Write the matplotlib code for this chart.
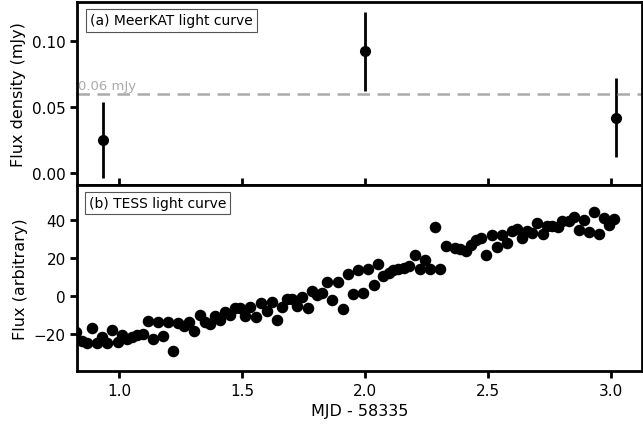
import matplotlib
matplotlib.use("Agg")
import matplotlib.pyplot as plt

# MeerKAT light curve
mk_mjd = [0.935, 2.0, 3.02]
mk_flux = [0.025, 0.092, 0.042]
mk_err = [0.029, 0.030, 0.030]
threshold = 0.06

# TESS light curve
tess_mjd = [0.825, 0.848, 0.869, 0.889, 0.909, 0.930, 0.952, 0.973, 0.995, 1.013,
            1.034, 1.054, 1.074, 1.096, 1.119, 1.139, 1.160, 1.180, 1.200, 1.221,
            1.241, 1.264, 1.285, 1.306, 1.329, 1.350, 1.370, 1.390, 1.411, 1.431,
            1.451, 1.472, 1.492, 1.512, 1.533, 1.556, 1.577, 1.600, 1.621, 1.641,
            1.661, 1.682, 1.702, 1.722, 1.743, 1.766, 1.786, 1.806, 1.826, 1.847,
            1.867, 1.891, 1.912, 1.932, 1.952, 1.973, 1.993, 2.011, 2.034, 2.054,
            2.074, 2.095, 2.115, 2.135, 2.156, 2.179, 2.203, 2.224, 2.244, 2.264,
            2.285, 2.305, 2.327, 2.366, 2.386, 2.409, 2.429, 2.450, 2.470, 2.492,
            2.515, 2.535, 2.556, 2.576, 2.596, 2.616, 2.637, 2.657, 2.678, 2.700,
            2.721, 2.741, 2.761, 2.782, 2.802, 2.827, 2.847, 2.870, 2.890, 2.911,
            2.931, 2.951, 2.972, 2.993, 3.013]
tess_flux = [-19.0, -24.0, -25.0, -17.0, -25.0, -22.0, -25.0, -18.0, -24.4, -20.7,
             -22.8, -21.7, -21.0, -20.4, -13.2, -22.8, -13.7, -21.4, -14.0, -29.3,
             -14.4, -16.2, -14.0, -18.4, -10.2, -14.0, -14.9, -10.5, -12.7, -8.4,
             -10.2, -6.6, -6.6, -10.5, -6.1, -11.4, -4.0, -8.2, -3.5, -12.7,
             -6.1, -1.8, -1.8, -5.6, -0.5, -6.6, 2.3, 0.4, 1.3, 7.4,
             -2.2, 7.1, -7.2, 11.4, 0.9, 13.7, 1.3, 14.2, 5.4, 16.5,
             10.2, 12.1, 13.7, 14.2, 14.6, 15.6, 21.3, 14.2, 18.6, 14.0,
             36.5, 14.0, 26.2, 25.3, 24.8, 23.4, 26.5, 29.2, 30.6, 21.6,
             31.8, 25.7, 31.8, 27.8, 34.1, 35.0, 30.6, 34.1, 33.1, 38.5,
             32.6, 36.6, 36.6, 36.4, 39.6, 39.6, 41.4, 34.4, 40.1, 33.6,
             44.0, 32.6, 41.1, 37.1, 40.6]

plt.rcParams['font.family'] = ['DejaVu Sans']

fig = plt.figure(figsize=(6.43, 4.27), dpi=100)
L, R = 0.1205, 0.998
ax1 = fig.add_axes([L, 0.5644, R - L, 0.992 - 0.5644])
ax2 = fig.add_axes([L, 0.129, R - L, 0.5644 - 0.129], sharex=ax1)

for ax in (ax1, ax2):
    for s in ax.spines.values():
        s.set_linewidth(2.0)
    ax.tick_params(axis='both', width=2.0, length=5, labelsize=11)

# Top panel
ax1.errorbar(mk_mjd, mk_flux, yerr=mk_err, fmt='o', color='black',
             markersize=7, elinewidth=2, capsize=0)
ax1.axhline(threshold, color='#aaaaaa', linestyle='--', linewidth=1.8, dashes=(5, 3))
ax1.text(0.835, threshold + 0.0015, '0.06 mJy', color='#aaaaaa', fontsize=9.5,
         ha='left', va='bottom')
ax1.set_ylim(-0.009, 0.129)
ax1.set_yticks([0.0, 0.05, 0.10])
ax1.set_ylabel('Flux density (mJy)', fontsize=11.5)
ax1.tick_params(axis='x', direction='in', labelbottom=False)
ax1.text(0.022, 0.94, '(a) MeerKAT light curve', transform=ax1.transAxes,
         fontsize=10, ha='left', va='top',
         bbox=dict(boxstyle='square,pad=0.3', fc='white', ec='#555555', lw=0.8))

# Bottom panel
ax2.plot(tess_mjd, tess_flux, 'o', color='black', markersize=7.3)
ax2.set_ylim(-39.7, 58.4)
ax2.set_yticks([-20, 0, 20, 40])
ax2.set_xlim(0.831, 3.124)
ax2.set_xticks([1.0, 1.5, 2.0, 2.5, 3.0])
ax2.set_ylabel('Flux (arbitrary)', fontsize=11.5)
ax2.set_xlabel('MJD - 58335', fontsize=11.5)
ax2.text(0.02, 0.94, '(b) TESS light curve', transform=ax2.transAxes,
         fontsize=10, ha='left', va='top',
         bbox=dict(boxstyle='square,pad=0.3', fc='white', ec='#555555', lw=0.8))

fig.savefig('out.png', dpi=100)
